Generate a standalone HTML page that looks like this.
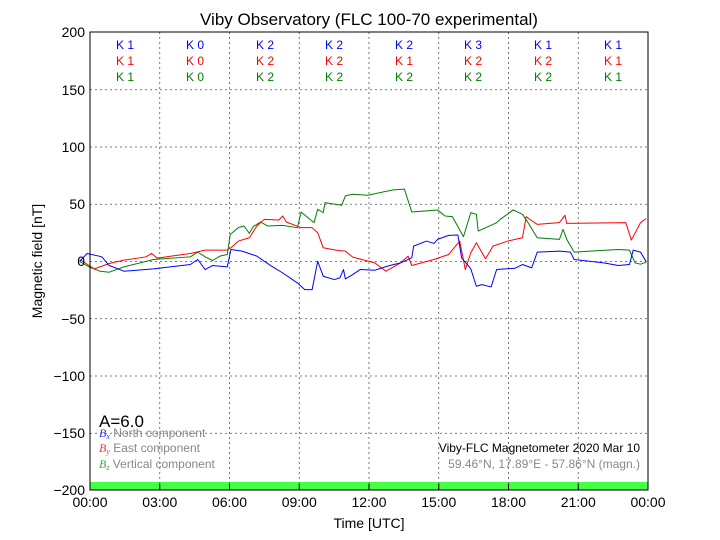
<!DOCTYPE html>
<html><head><meta charset="utf-8"><style>
html,body{margin:0;padding:0;background:#fff;}
svg{display:block;font-family:"Liberation Sans",sans-serif;}
</style></head><body>
<svg width="720" height="540" viewBox="0 0 720 540" xmlns="http://www.w3.org/2000/svg">
<rect width="720" height="540" fill="#fff"/>
<rect x="90" y="482" width="558" height="8" fill="#44ff44"/>
<g stroke="#555" stroke-width="0.8" stroke-dasharray="2,3" fill="none">
<line x1="159.75" y1="32" x2="159.75" y2="490"/><line x1="229.5" y1="32" x2="229.5" y2="490"/>
<line x1="299.25" y1="32" x2="299.25" y2="490"/><line x1="369" y1="32" x2="369" y2="490"/>
<line x1="438.75" y1="32" x2="438.75" y2="490"/><line x1="508.5" y1="32" x2="508.5" y2="490"/>
<line x1="578.25" y1="32" x2="578.25" y2="490"/>
<line x1="90" y1="89.75" x2="648" y2="89.75"/><line x1="90" y1="147" x2="648" y2="147"/>
<line x1="90" y1="204.25" x2="648" y2="204.25"/><line x1="90" y1="261.5" x2="648" y2="261.5"/>
<line x1="90" y1="318.75" x2="648" y2="318.75"/><line x1="90" y1="376" x2="648" y2="376"/>
<line x1="90" y1="433.25" x2="648" y2="433.25"/>
</g>
<g fill="none" stroke-width="1" stroke-linejoin="round" transform="matrix(0.369,0,0,0.3348,79.68,179.14)">
<polyline vector-effect="non-scaling-stroke" stroke="#008000" points="0,246 25,262 55,275 80,278 120,262 200,240 300,232 320,218 340,232 360,243 380,230 400,225 408,165 430,145 445,140 460,162 470,142 490,128 510,140 550,138 590,145 600,98 635,130 645,90 660,100 665,70 710,78 720,50 740,45 780,48 850,32 880,30 900,98 970,92 990,110 1010,112 1040,172 1060,100 1075,105 1080,155 1130,130 1140,120 1175,92 1200,105 1215,130 1240,175 1300,180 1310,150 1320,180 1340,218 1400,214 1460,210 1490,212 1505,250 1520,254 1535,248"/>
<polyline vector-effect="non-scaling-stroke" stroke="#ff0000" points="0,240 40,268 80,252 120,242 180,232 195,222 210,236 300,222 340,212 400,212 410,205 430,185 460,175 480,140 500,120 540,122 550,110 560,128 600,145 630,145 645,160 660,205 700,213 720,215 740,233 800,250 830,275 870,250 890,230 900,258 960,240 1000,225 1030,185 1045,270 1060,220 1075,190 1100,238 1120,200 1160,185 1200,175 1210,112 1230,128 1240,135 1300,130 1315,108 1320,132 1480,130 1495,182 1520,130 1535,118"/>
<polyline vector-effect="non-scaling-stroke" stroke="#0000ff" points="0,246 20,222 60,232 80,258 120,275 200,268 300,255 320,240 340,270 360,258 400,262 410,210 440,215 480,230 520,260 550,280 590,310 610,330 630,330 645,245 660,290 690,300 705,295 715,270 720,298 740,285 760,270 800,272 840,258 870,250 900,235 905,200 940,185 960,192 970,180 1000,168 1025,167 1035,235 1060,268 1075,320 1090,315 1115,322 1130,270 1180,266 1200,255 1225,265 1240,218 1300,215 1330,218 1340,240 1420,250 1460,258 1490,255 1500,212 1520,218 1535,246"/>
</g>
<rect x="90" y="32" width="558" height="458" fill="none" stroke="#000" stroke-width="1"/>
<g stroke="#000" stroke-width="1">
<line x1="159.75" y1="490" x2="159.75" y2="484"/><line x1="229.5" y1="490" x2="229.5" y2="484"/><line x1="299.25" y1="490" x2="299.25" y2="484"/><line x1="369" y1="490" x2="369" y2="484"/><line x1="438.75" y1="490" x2="438.75" y2="484"/><line x1="508.5" y1="490" x2="508.5" y2="484"/><line x1="578.25" y1="490" x2="578.25" y2="484"/>
</g>
<g font-size="14" text-anchor="end" fill="#000">
<text x="85" y="37">200</text><text x="85" y="95">150</text><text x="85" y="152">100</text><text x="85" y="209">50</text><text x="85" y="266">0</text><text x="85" y="324">−50</text><text x="85" y="381">−100</text><text x="85" y="438">−150</text><text x="85" y="495">−200</text>
</g>
<g font-size="14" text-anchor="middle" fill="#000">
<text x="90" y="507">00:00</text><text x="159.75" y="507">03:00</text><text x="229.5" y="507">06:00</text><text x="299.25" y="507">09:00</text><text x="369" y="507">12:00</text><text x="438.75" y="507">15:00</text><text x="508.5" y="507">18:00</text><text x="578.25" y="507">21:00</text><text x="648" y="507">00:00</text>
<text x="369" y="528">Time [UTC]</text>
<text x="369" y="25" font-size="17">Viby Observatory (FLC 100-70 experimental)</text>
</g>
<text transform="translate(42,261) rotate(-90)" text-anchor="middle" font-size="14">Magnetic field [nT]</text>
<g font-size="12" text-anchor="middle">
<g fill="#0000ff"><text x="125" y="49">K 1</text><text x="195" y="49">K 0</text><text x="265" y="49">K 2</text><text x="334" y="49">K 2</text><text x="404" y="49">K 2</text><text x="473" y="49">K 3</text><text x="543" y="49">K 1</text><text x="613" y="49">K 1</text></g>
<g fill="#ff0000"><text x="125" y="65">K 1</text><text x="195" y="65">K 0</text><text x="265" y="65">K 2</text><text x="334" y="65">K 2</text><text x="404" y="65">K 1</text><text x="473" y="65">K 2</text><text x="543" y="65">K 2</text><text x="613" y="65">K 1</text></g>
<g fill="#008000"><text x="125" y="81">K 1</text><text x="195" y="81">K 0</text><text x="265" y="81">K 2</text><text x="334" y="81">K 2</text><text x="404" y="81">K 2</text><text x="473" y="81">K 2</text><text x="543" y="81">K 2</text><text x="613" y="81">K 1</text></g>
</g>
<text x="99" y="427" font-size="17">A=6.0</text>
<g font-size="12" fill="#888">
<text x="99" y="437"><tspan fill="#3333ff" font-family="Liberation Serif" font-style="italic">B<tspan font-size="8" dy="2">x</tspan></tspan><tspan dy="-2"> North component</tspan></text>
<text x="99" y="452"><tspan fill="#ff3333" font-family="Liberation Serif" font-style="italic">B<tspan font-size="8" dy="2">y</tspan></tspan><tspan dy="-2"> East component</tspan></text>
<text x="99" y="468"><tspan fill="#33aa33" font-family="Liberation Serif" font-style="italic">B<tspan font-size="8" dy="2">z</tspan></tspan><tspan dy="-2"> Vertical component</tspan></text>
</g>
<text x="640" y="452" font-size="12" text-anchor="end" fill="#000">Viby-FLC Magnetometer 2020 Mar 10</text>
<text x="640" y="468" font-size="12" text-anchor="end" fill="#888">59.46°N, 17.89°E - 57.86°N (magn.)</text>
</svg>
</body></html>
